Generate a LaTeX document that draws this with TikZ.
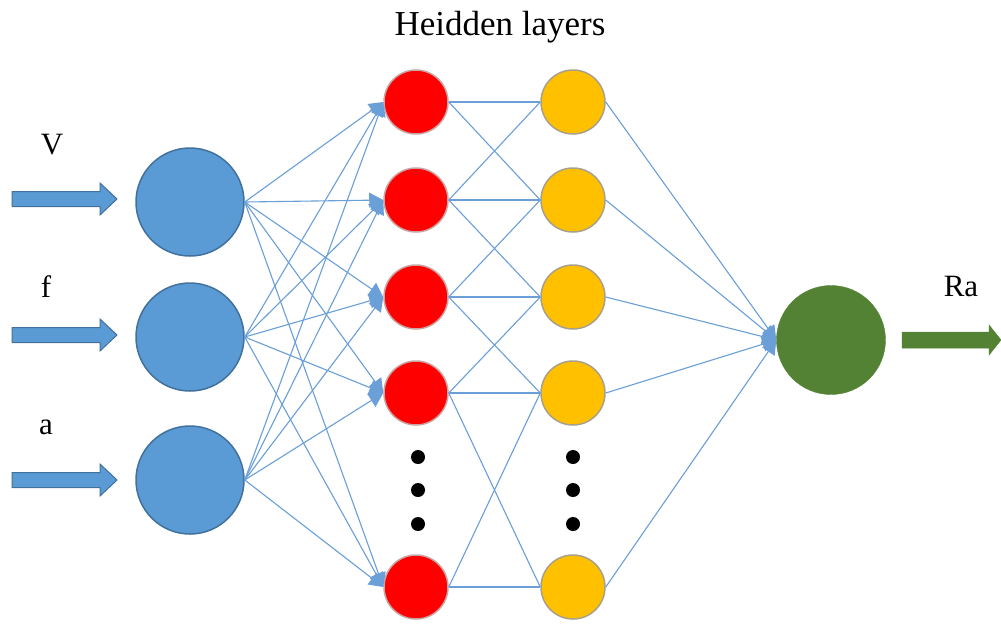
\documentclass[tikz,border=0pt]{standalone}
\usepackage{fontspec}
\setmainfont{Liberation Serif}
\usetikzlibrary{arrows.meta}
\definecolor{inblue}{HTML}{5B9BD5}
\definecolor{inborder}{HTML}{41719C}
\definecolor{edgeblue}{HTML}{6A9FD8}
\definecolor{hred}{HTML}{FF0000}
\definecolor{hredborder}{HTML}{C9A5A5}
\definecolor{horange}{HTML}{FFC000}
\definecolor{horborder}{HTML}{A8A08A}
\definecolor{outgreen}{HTML}{548235}
\begin{document}
\begin{tikzpicture}[x=1pt,y=-1pt,
  inneuron/.style={circle, fill=inblue, draw=inborder, line width=1.5pt, minimum size=108pt, inner sep=0pt},
  redneuron/.style={circle, fill=hred, draw=hredborder, line width=1.5pt, minimum size=64pt, inner sep=0pt},
  orneuron/.style={circle, fill=horange, draw=horborder, line width=1.5pt, minimum size=64pt, inner sep=0pt},
  outneuron/.style={circle, fill=outgreen, draw=outgreen, minimum size=109pt, inner sep=0pt},
  dotnode/.style={circle, fill=black, minimum size=14pt, inner sep=0pt},
  edge/.style={draw=edgeblue, line width=1.1pt},
  tipedge/.style={edge, -{Triangle[length=14pt,width=15pt]}},
  lbl/.style={font=\fontsize{31}{33}\selectfont, anchor=base, inner sep=0pt},
  titlelbl/.style={font=\fontsize{35}{37}\selectfont, anchor=base, inner sep=0pt},
  blockarrow/.style={fill=inblue, draw=inborder, line width=1pt},
  greenarrow/.style={fill=outgreen, draw=outgreen, line width=0.5pt},
]
\path[fill=white] (0,0) rectangle (1001,625);
\useasboundingbox (0,0) rectangle (1001,625);

% title and labels
\node[titlelbl] (title) at (500,35) {Heidden layers};
\node[lbl] (lv) at (52,154) {V};
\node[lbl] (lf) at (46,297) {f};
\node[lbl] (la) at (46,434) {a};
\node[lbl] (lra) at (961,296) {Ra};

% input block arrows
\foreach \yy/\nm in {199/A1,335/A2,480/A3}{
  \draw[blockarrow] (12,\yy-7.5) -- (100,\yy-7.5) -- (100,\yy-16) -- (117,\yy) -- (100,\yy+16) -- (100,\yy+7.5) -- (12,\yy+7.5) -- cycle;
}
% output block arrow
\draw[greenarrow] (902,332) -- (989,332) -- (989,325) -- (1001,340) -- (989,355) -- (989,348) -- (902,348) -- cycle;

% neurons
\node[inneuron] (I1) at (190,202) {};
\node[inneuron] (I2) at (190,337) {};
\node[inneuron] (I3) at (190,480) {};

\node[redneuron] (R1) at (416,102) {};
\node[redneuron] (R2) at (416,200) {};
\node[redneuron] (R3) at (416,297) {};
\node[redneuron] (R4) at (416,393) {};
\node[redneuron] (R5) at (416,587) {};

\node[orneuron] (O1) at (573,102) {};
\node[orneuron] (O2) at (573,200) {};
\node[orneuron] (O3) at (573,297) {};
\node[orneuron] (O4) at (573,393) {};
\node[orneuron] (O5) at (573,587) {};

\node[outneuron] (G) at (831,340) {};

% dots
\foreach \yy/\k in {457/1,490/2,524/3}{
  \node[dotnode] (dr\k) at (418,\yy) {};
  \node[dotnode] (do\k) at (573,\yy) {};
}

% input -> hidden 1
\foreach \i in {1,2,3}{
  \foreach \j in {1,2,3,4,5}{
    \draw[tipedge] (I\i.east) -- (R\j.west);
  }
}
% hidden 1 -> hidden 2
\draw[edge] (R1.east) -- (O1.west);
\draw[edge] (R1.east) -- (O2.west);
\draw[edge] (R2.east) -- (O1.west);
\draw[edge] (R2.east) -- (O2.west);
\draw[edge] (R2.east) -- (O3.west);
\draw[edge] (R3.east) -- (O2.west);
\draw[edge] (R3.east) -- (O3.west);
\draw[edge] (R3.east) -- (O4.west);
\draw[edge] (R4.east) -- (O3.west);
\draw[edge] (R4.east) -- (O4.west);
\draw[edge] (R4.east) -- (O5.west);
\draw[edge] (R5.east) -- (O4.west);
\draw[edge] (R5.east) -- (O5.west);
% hidden 2 -> output
\foreach \j in {1,2,3,4,5}{
  \draw[tipedge] (O\j.east) -- (G.west);
}
\end{tikzpicture}
\end{document}
